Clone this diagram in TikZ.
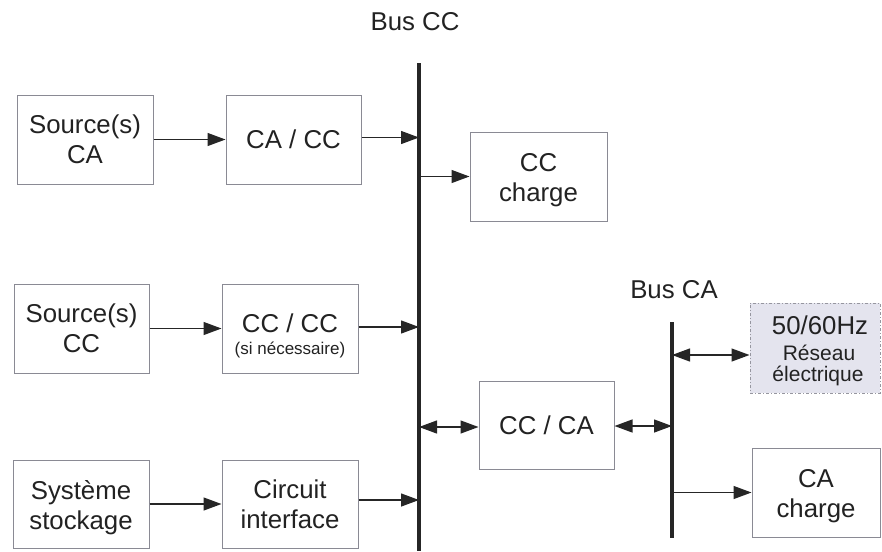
\documentclass[tikz,border=0pt]{standalone}
\usepackage{fontspec}
\setmainfont{Liberation Sans}
\usetikzlibrary{arrows.meta}
\definecolor{txt}{HTML}{222222}
\definecolor{boxline}{HTML}{8A8A94}
\definecolor{gridfill}{HTML}{E4E4EE}
\tikzset{
  blk/.style={draw=boxline, line width=1pt, fill=white, text=txt, align=center,
    inner sep=0pt, font=\fontsize{25.8}{30}\selectfont},
  tip/.tip={Triangle[length=18pt,width=13pt]},
  conn/.style={line width=1.3pt, draw=black!85, -tip},
  dconn/.style={line width=1.3pt, draw=black!85, tip-tip},
  busline/.style={line width=4pt, draw=black!85},
  lbl/.style={text=txt, font=\fontsize{25.8}{30}\selectfont, inner sep=0pt, align=center},
  smalllbl/.style={text=txt, font=\fontsize{17}{20}\selectfont, inner sep=0pt},
  midlbl/.style={text=txt, font=\fontsize{21}{24}\selectfont, inner sep=0pt},
}
\begin{document}
\begin{tikzpicture}[x=1pt,y=-1pt]
\useasboundingbox (0,0) rectangle (882,551);
% buses
\coordinate (ccT) at (419,63);
\coordinate (ccB) at (419,551);
\coordinate (caT) at (672,322);
\coordinate (caB) at (672,538);
\draw[busline] (ccT) -- (ccB);
\draw[busline, line width=3.5pt] (caT) -- (caB);
\node[lbl] (lcc) at (415,22) {Bus CC};
\node[lbl] (lca) at (674,290) {Bus CA};
% boxes
\node[blk, minimum width=136pt, minimum height=89pt] (sca) at (85,139.5) {Source(s)\\CA};
\node[blk, minimum width=135pt, minimum height=89pt] (cacc) at (293.5,139.5) {CA / CC};
\node[blk, minimum width=137pt, minimum height=89pt] (ccch) at (538.5,176.5) {};
\node[lbl] (ccch-t) at (538.5,180.5) {CC\\charge};
\node[blk, minimum width=135pt, minimum height=89pt] (scc) at (81.5,328.5) {Source(s)\\CC};
\node[blk, minimum width=136pt, minimum height=89pt] (cccc) at (290,328.5) {};
\node[lbl] (cccc-t1) at (290,323) {CC / CC};
\node[smalllbl] (cccc-t2) at (290,350) {(si nécessaire)};
\node[blk, minimum width=136pt, minimum height=88pt] (sys) at (81,504) {};
\node[lbl] (sys-t) at (81,508) {Système\\stockage};
\node[blk, minimum width=136pt, minimum height=88pt] (circ) at (290,504) {Circuit\\interface};
\node[blk, minimum width=135pt, minimum height=88pt] (ccca) at (546.5,425) {CC / CA};
\node[blk, minimum width=130pt, minimum height=90pt, fill=gridfill, draw=boxline!90, dash dot] (res) at (815,348) {};
\node[lbl] (res-t1) at (820,325) {50/60Hz};
\node[midlbl] (res-t2) at (819,353) {Réseau};
\node[midlbl] (res-t3) at (818,376) {électrique};
\node[blk, minimum width=128pt, minimum height=89pt] (cach) at (816,492.5) {};
\node[lbl] (cach-t) at (816,496) {CA\\charge};
% connectors
\draw[conn] (sca) -- (cacc);
\draw[conn] ([yshift=2pt]cacc.east) -- ([yshift=2pt]cacc.east -| ccT);
\draw[conn] (ccch.west -| ccT) -- (ccch.west);
\draw[conn] (scc) -- (cccc);
\draw[conn] ([yshift=1.5pt]cccc.east) -- ([yshift=1.5pt]cccc.east -| ccT);
\draw[conn] (sys) -- (circ);
\draw[conn] ([yshift=4pt]circ.east) -- ([yshift=4pt]circ.east -| ccT);
\draw[dconn] ([yshift=-2pt]ccca.west -| ccT) -- ([yshift=-2pt]ccca.west);
\draw[dconn] ([yshift=-1pt]ccca.east) -- ([yshift=-1pt]ccca.east -| caT);
\draw[dconn] ([yshift=-7pt]res.west -| caT) -- ([yshift=-7pt]res.west);
\draw[conn] (cach.west -| caT) -- (cach.west);
\end{tikzpicture}
\end{document}
